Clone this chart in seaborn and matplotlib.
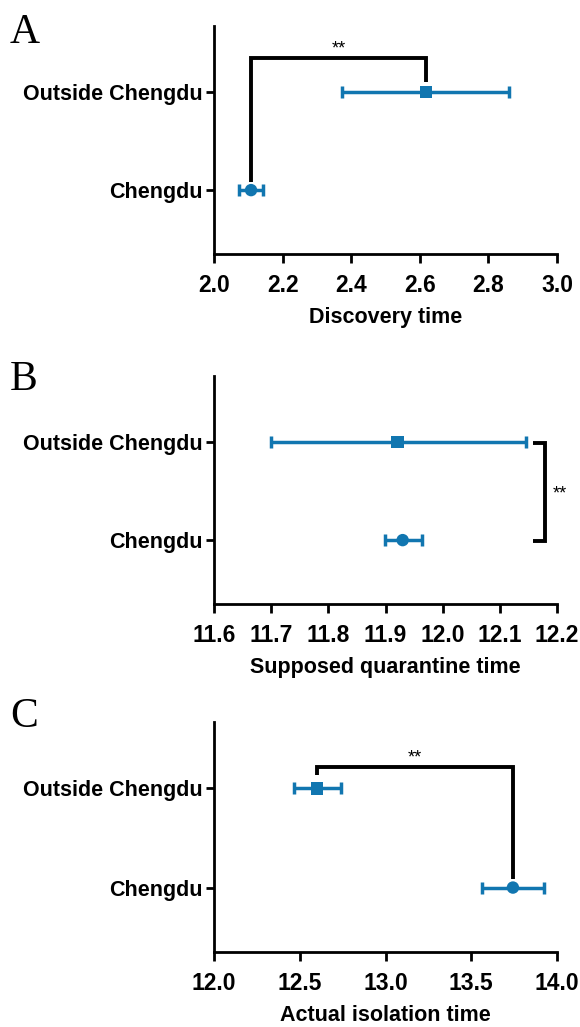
import matplotlib
matplotlib.use("Agg")
import matplotlib.pyplot as plt
import seaborn as sns
import pandas as pd
import numpy as np

# ---------------- data ----------------
groups = ["Chengdu", "Outside Chengdu"]
group_markers = {"Chengdu": "o", "Outside Chengdu": "s"}

discovery_mean = [2.108, 2.618]
discovery_low = [2.073, 2.373]
discovery_high = [2.142, 2.860]

quarantine_mean = [11.930, 11.921]
quarantine_low = [11.899, 11.700]
quarantine_high = [11.963, 12.146]

isolation_mean = [13.743, 12.600]
isolation_low = [13.560, 12.466]
isolation_high = [13.925, 12.740]

panel_letters = ["A", "B", "C"]
panel_xlabels = ["Discovery time", "Supposed quarantine time", "Actual isolation time"]
panel_xticks = [
    [2.0, 2.2, 2.4, 2.6, 2.8, 3.0],
    [11.6, 11.7, 11.8, 11.9, 12.0, 12.1, 12.2],
    [12.0, 12.5, 13.0, 13.5, 14.0],
]
significance = ["**", "**", "**"]

# ---------------- style ----------------
sns.set_theme(style="ticks")
plt.rcParams["font.family"] = ["Liberation Sans", "DejaVu Sans"]
plt.rcParams["text.color"] = "black"
plt.rcParams["axes.labelcolor"] = "black"
plt.rcParams["xtick.color"] = "black"
plt.rcParams["ytick.color"] = "black"
BLUE = "#1176b0"
FS = 15.5
FSX = 16.5

fig = plt.figure(figsize=(5.8, 10.27), dpi=100)
W, H = 580, 1027

panel_boxes = [(26, 254), (376, 604), (722, 952)]
letter_baselines = [43, 390, 727]
ax_left, ax_right = 214, 557

means = [discovery_mean, quarantine_mean, isolation_mean]
lows = [discovery_low, quarantine_low, isolation_low]
highs = [discovery_high, quarantine_high, isolation_high]

for i in range(3):
    top, bottom = panel_boxes[i]
    ax = fig.add_axes([ax_left / W, 1 - bottom / H, (ax_right - ax_left) / W, (bottom - top) / H])
    df = pd.DataFrame({
        "group": groups,
        "mean": means[i],
        "low": lows[i],
        "high": highs[i],
    })
    df["pos"] = np.arange(len(groups))

    # error bars
    ax.errorbar(df["mean"], df["pos"],
                xerr=[df["mean"] - df["low"], df["high"] - df["mean"]],
                fmt="none", ecolor=BLUE, elinewidth=2.5, capsize=4.2, capthick=2.5, zorder=2)
    # markers through seaborn
    sns.scatterplot(data=df, x="mean", y="pos", style="group", markers=group_markers,
                    color=BLUE, s=80, edgecolor=BLUE, linewidth=0, legend=False, ax=ax, zorder=3)

    xt = panel_xticks[i]
    ax.set_xlim(xt[0], xt[-1])
    ax.set_ylim(-0.65, 1.67)
    ax.set_xticks(xt)
    ax.set_xticklabels([f"{v:.1f}" for v in xt], fontsize=FSX, fontweight="bold")
    ax.set_yticks(df["pos"])
    ax.set_yticklabels(groups, fontsize=FS, fontweight="bold")
    ax.set_xlabel(panel_xlabels[i], fontsize=FS, fontweight="bold", labelpad=7, color="black")
    ax.set_ylabel("")
    sns.despine(ax=ax)
    for s in ["left", "bottom"]:
        ax.spines[s].set_linewidth(2.0)
        ax.spines[s].set_color("black")
    ax.tick_params(axis="x", length=6.5, width=2.0, pad=8, colors="black")
    ax.tick_params(axis="y", length=5.5, width=2.0, pad=3, colors="black")
    ax.set_facecolor("white")

    m0, m1 = means[i]
    bk = dict(color="black", lw=2.8, solid_joinstyle="miter", solid_capstyle="butt", clip_on=False, zorder=4)
    if i == 0:
        yb = 1.34
        ax.plot([m0, m0, m1, m1], [0.08, yb, yb, 1.10], **bk)
        ax.text((m0 + m1) / 2, 1.39, significance[i], ha="center", va="baseline", fontsize=13, color="black")
    elif i == 1:
        xb, xs = 12.179, 12.158
        ax.plot([xs, xb, xb, xs], [0.99, 0.99, -0.01, -0.01], **bk)
        ax.text(12.193, 0.42, significance[i], ha="left", va="baseline", fontsize=13, clip_on=False, color="black")
    else:
        yb = 1.22
        ax.plot([m1, m1, m0, m0], [1.14, yb, yb, 0.09], **bk)
        ax.text((m0 + m1) / 2, 1.26, significance[i], ha="center", va="baseline", fontsize=13, color="black")

    fig.text(10 / W, 1 - letter_baselines[i] / H, panel_letters[i], ha="left", va="baseline",
             fontsize=30, color="black", family=["Liberation Serif", "DejaVu Serif"])

fig.savefig("out.png", dpi=100, facecolor="white")
